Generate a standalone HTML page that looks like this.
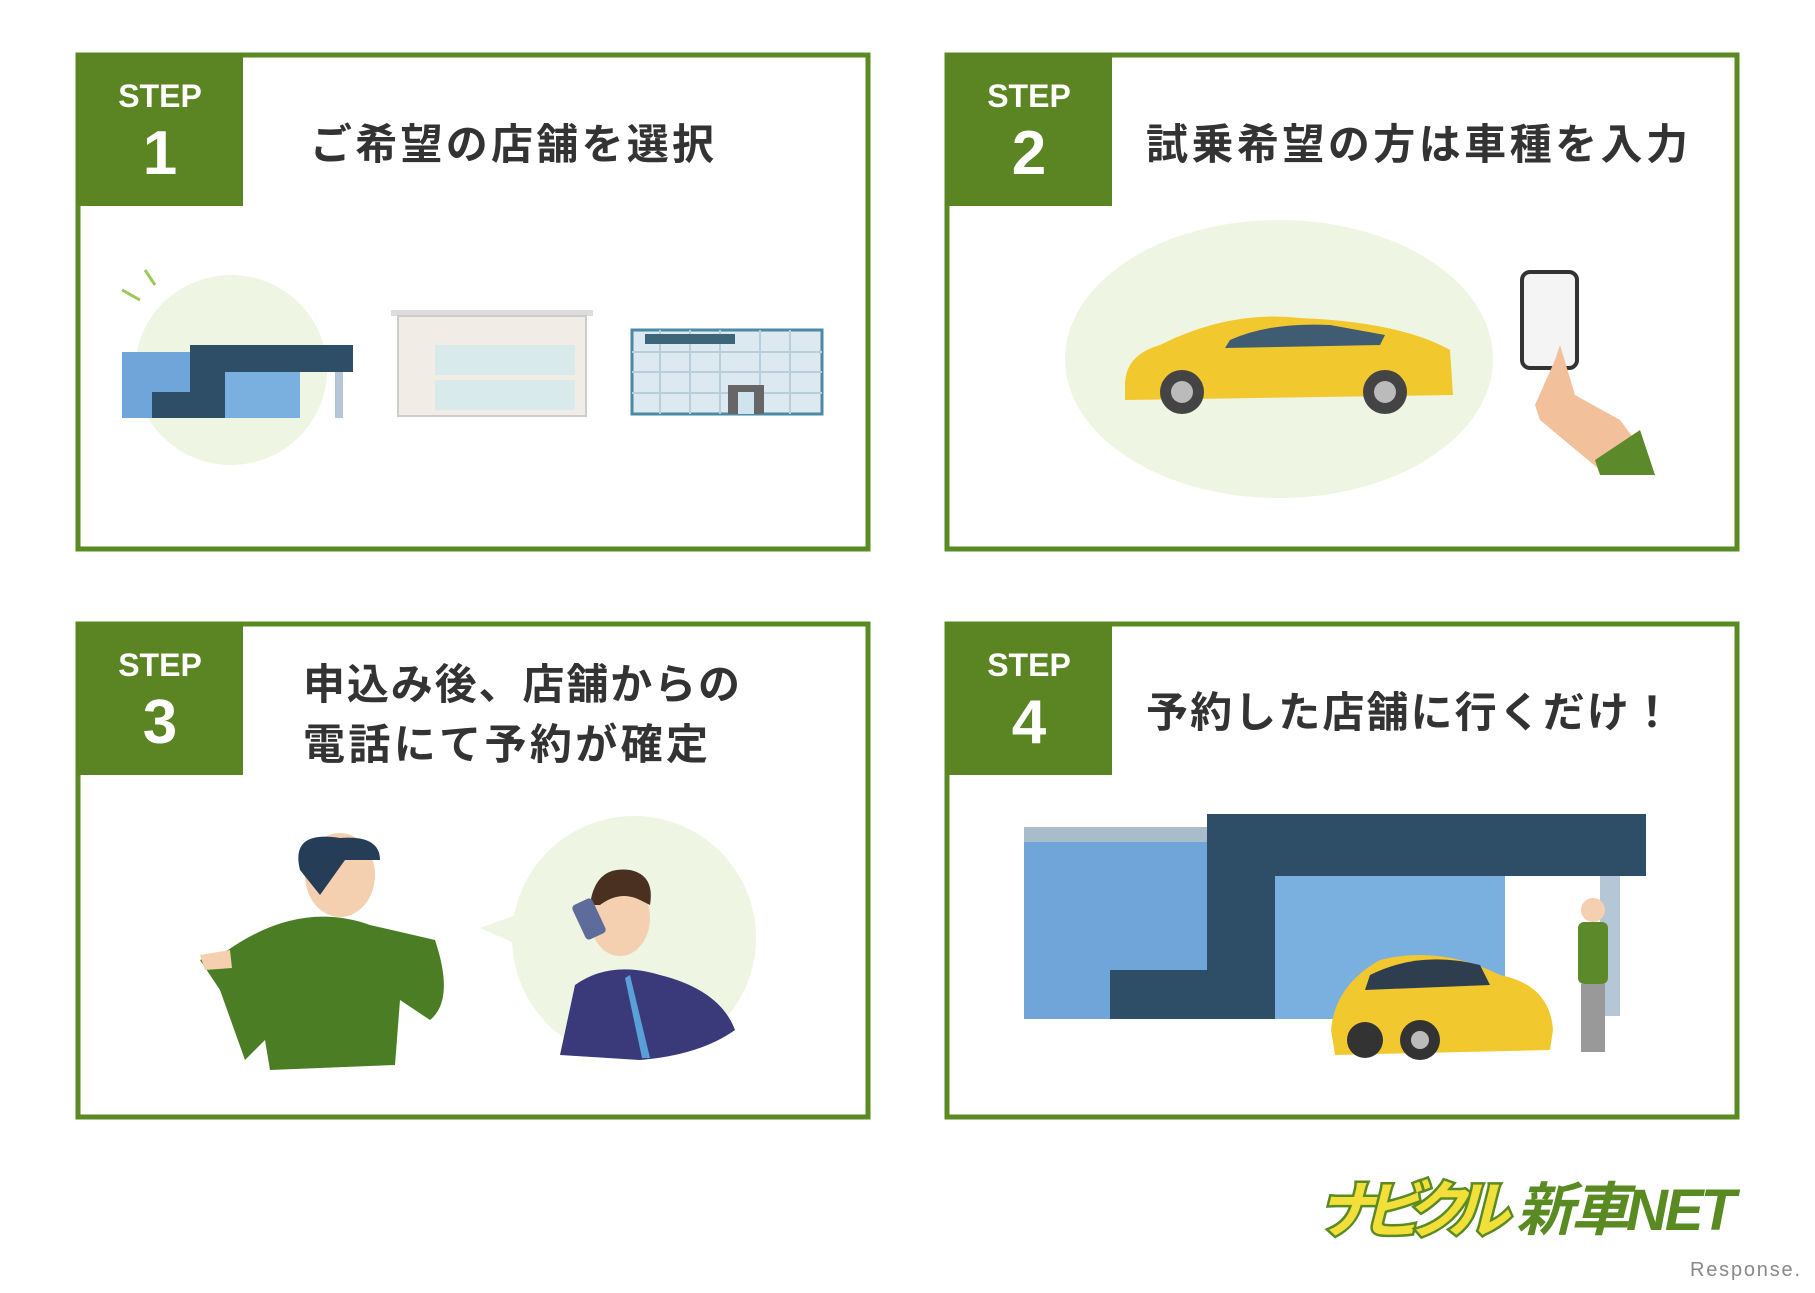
<!DOCTYPE html>
<html><head><meta charset="utf-8"><style>
html,body{margin:0;padding:0;background:#fff;}
svg{display:block;}
text{font-family:"Liberation Sans","Noto Sans CJK JP",sans-serif;}
</style></head><body>
<svg width="1815" height="1293" viewBox="0 0 1815 1293" xmlns="http://www.w3.org/2000/svg">
<g fill="#fff" stroke="#5a8a22" stroke-width="5">
<rect x="78" y="55" width="790" height="494"/>
<rect x="947" y="55" width="790" height="494"/>
<rect x="78" y="624" width="790" height="493"/>
<rect x="947" y="624" width="790" height="493"/>
</g>
<g fill="#5b8423">
<rect x="76" y="53" width="167" height="153"/>
<rect x="945" y="53" width="167" height="153"/>
<rect x="76" y="622" width="167" height="153"/>
<rect x="945" y="622" width="167" height="153"/>
</g>
<g fill="#fff" text-anchor="middle" font-weight="bold">
<text x="160" y="107" font-size="32">STEP</text><text x="160" y="174" font-size="62">1</text>
<text x="1029" y="107" font-size="32">STEP</text><text x="1029" y="174" font-size="62">2</text>
<text x="160" y="676" font-size="32">STEP</text><text x="160" y="743" font-size="62">3</text>
<text x="1029" y="676" font-size="32">STEP</text><text x="1029" y="743" font-size="62">4</text>
</g>
<g fill="#333" font-weight="bold" font-size="42">
<text x="310" y="159" textLength="404">ご希望の店舗を選択</text>
<text x="1146" y="159" textLength="542">試乗希望の方は車種を入力</text>
<text x="303" y="699" textLength="437">申込み後、店舗からの</text>
<text x="303" y="759" textLength="405">電話にて予約が確定</text>
<text x="1146" y="727" textLength="527">予約した店舗に行くだけ！</text>
</g>
<!-- Box1 -->
<ellipse cx="231" cy="370" rx="96" ry="95" fill="#eef5e2"/>
<g stroke="#9cc95a" stroke-width="3"><line x1="122" y1="290" x2="140" y2="300"/><line x1="145" y1="270" x2="155" y2="285"/></g>
<rect x="122" y="352" width="110" height="66" fill="#6fa5d8"/>
<path d="M190 345 H353 V372 H225 V418 H152 V392 H190Z" fill="#2d4e66"/>
<rect x="225" y="372" width="75" height="46" fill="#7ab0df"/>
<rect x="335" y="372" width="8" height="46" fill="#b5c7d6"/>
<rect x="391" y="310" width="202" height="6" fill="#ddd"/>
<rect x="398" y="316" width="188" height="100" fill="#f1ede6" stroke="#ccc" stroke-width="2"/>
<rect x="435" y="345" width="140" height="30" fill="#d8eaec"/><rect x="435" y="380" width="140" height="30" fill="#d8eaec"/>
<rect x="632" y="330" width="190" height="84" fill="#dce9f0" stroke="#4b8aa5" stroke-width="3"/>
<g stroke="#b8cfdb" stroke-width="2">
<line x1="632" y1="352" x2="822" y2="352"/><line x1="632" y1="372" x2="822" y2="372"/><line x1="632" y1="393" x2="822" y2="393"/>
<line x1="660" y1="330" x2="660" y2="414"/><line x1="690" y1="330" x2="690" y2="414"/><line x1="720" y1="330" x2="720" y2="414"/><line x1="760" y1="330" x2="760" y2="414"/><line x1="790" y1="330" x2="790" y2="414"/>
</g>
<rect x="645" y="334" width="90" height="10" fill="#3d6779"/>
<rect x="728" y="385" width="36" height="29" fill="#666"/><rect x="738" y="392" width="16" height="22" fill="#cfe4ee"/>
<!-- Box2 -->
<ellipse cx="1279" cy="359" rx="214" ry="139" fill="#eef5e2"/>
<path d="M1125 385 Q1125 355 1160 345 Q1230 310 1300 318 Q1400 322 1450 350 L1453 395 L1125 400Z" fill="#f2c82f"/>
<path d="M1230 340 Q1270 322 1330 325 L1385 335 L1380 345 L1225 348Z" fill="#3f5c72"/>
<circle cx="1182" cy="392" r="22" fill="#444"/><circle cx="1182" cy="392" r="11" fill="#bbb"/>
<circle cx="1385" cy="392" r="22" fill="#444"/><circle cx="1385" cy="392" r="11" fill="#bbb"/>
<rect x="1522" y="272" width="55" height="96" rx="8" fill="#f4f4f4" stroke="#333" stroke-width="4"/>
<path d="M1555 360 L1560 345 L1575 395 L1620 420 L1650 460 L1600 470 L1540 420 L1535 405Z" fill="#f2c09a"/>
<path d="M1595 460 L1640 430 L1655 475 L1600 475Z" fill="#5c8a2a"/>
<!-- Box3 -->
<circle cx="634" cy="938" r="122" fill="#eef5e2"/>
<path d="M480 928 L530 910 L530 950Z" fill="#eef5e2"/>
<path d="M228 950 Q300 900 370 925 L435 940 Q455 1000 430 1020 L400 1000 L395 1065 L270 1070 L265 1040 L245 1060 L220 990 L200 960Z" fill="#4a7d24"/>
<ellipse cx="340" cy="875" rx="35" ry="42" fill="#f5d0b0"/>
<path d="M300 870 Q290 830 340 838 Q380 835 380 860 L345 860 L320 895Z" fill="#263d58"/>
<path d="M200 955 L230 950 L232 968 L205 970Z" fill="#f5d0b0"/>
<path d="M560 1055 L575 985 Q610 960 660 975 Q720 990 735 1030 Q700 1055 640 1060Z" fill="#3a3a7a"/>
<path d="M630 975 L650 1058 L642 1058 L625 978Z" fill="#5aa0d8"/>
<ellipse cx="620" cy="918" rx="30" ry="38" fill="#f5d0b0"/>
<path d="M590 905 Q595 865 630 870 Q655 875 650 905 L640 900 Q620 890 600 905Z" fill="#4a3020"/>
<rect x="578" y="900" width="22" height="38" rx="4" fill="#5d6c9a" transform="rotate(-25 589 919)"/>
<!-- Box4 -->
<rect x="1024" y="827" width="320" height="192" fill="#6fa5d8"/>
<rect x="1024" y="827" width="183" height="15" fill="#a9bcca"/>
<path d="M1207 814 H1646 V876 H1345 V1019 H1110 V970 H1207Z" fill="#2d4e66"/>
<rect x="1275" y="876" width="230" height="143" fill="#7ab0df"/>
<rect x="1600" y="876" width="20" height="140" fill="#b5c7d6"/>
<path d="M1331 1030 Q1335 985 1380 960 Q1440 945 1500 975 Q1550 985 1553 1030 L1550 1050 L1335 1055Z" fill="#f2c82f"/>
<path d="M1370 975 Q1420 950 1480 965 L1490 985 L1365 990Z" fill="#2e3e4e"/>
<circle cx="1365" cy="1040" r="18" fill="#333"/><circle cx="1420" cy="1040" r="20" fill="#333"/><circle cx="1420" cy="1040" r="9" fill="#bbb"/>
<circle cx="1593" cy="910" r="12" fill="#f5d0b0"/>
<rect x="1578" y="922" width="30" height="62" rx="6" fill="#5c8a2a"/>
<rect x="1581" y="984" width="24" height="68" fill="#999"/>
<!-- Logo -->
<text x="1317" y="1232" font-size="62" font-weight="bold" font-style="italic" fill="#f2df3a" stroke="#5a8a22" stroke-width="5" paint-order="stroke" textLength="192">ナビクル</text>
<text x="1516" y="1230" font-size="58" font-style="italic" font-weight="bold" fill="#5a8a22" textLength="220">新車NET</text>
<text x="1690" y="1276" font-size="20" fill="#888" textLength="110">Response.</text>
</svg>
</body></html>
